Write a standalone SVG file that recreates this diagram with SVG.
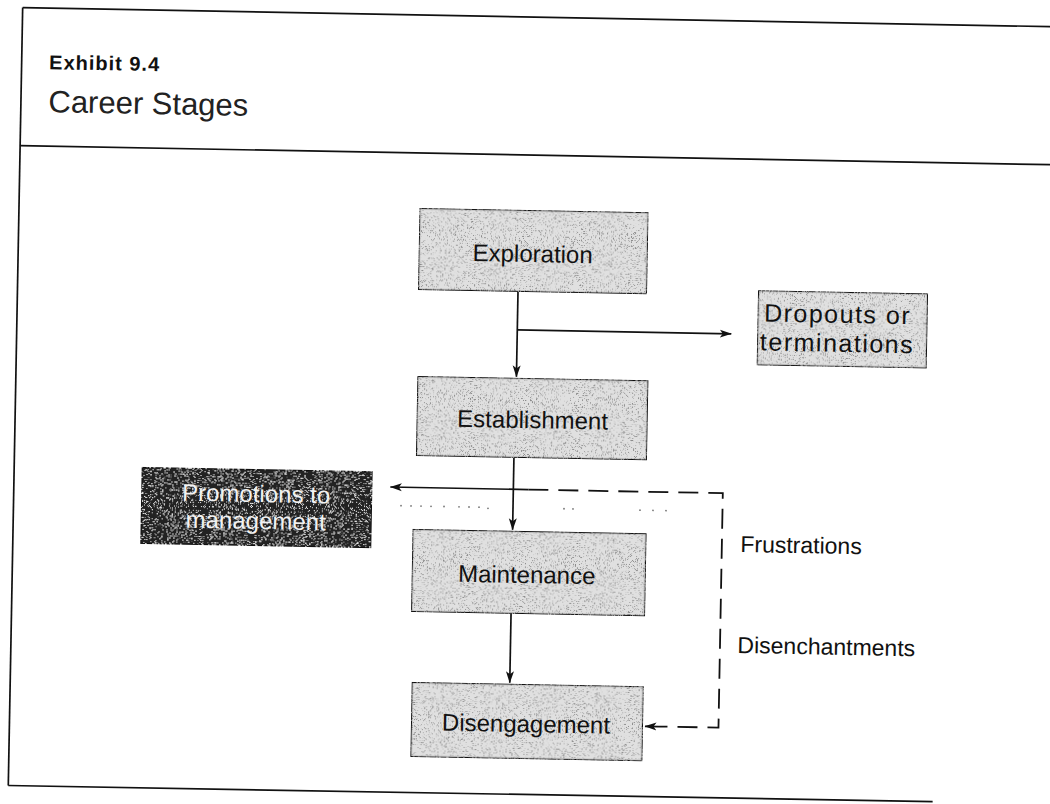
<svg xmlns="http://www.w3.org/2000/svg" width="1050" height="804" viewBox="0 0 1050 804">
<style>
.frame{stroke:#111;stroke-width:1.7;fill:none}
.box{fill:#e0e0e0;stroke:#111;stroke-width:2.2}
.dark{fill:#242424;stroke:#111;stroke-width:2.2}
.lbl{font-family:"Liberation Sans",Arial,sans-serif;font-size:24px;fill:#111;text-anchor:middle}
.big{font-size:25px;letter-spacing:1.5px}
.wlbl{font-family:"Liberation Sans",Arial,sans-serif;font-size:24px;fill:#f2f2f2;text-anchor:middle}
.side{font-family:"Liberation Sans",Arial,sans-serif;font-size:23px;fill:#111}
.conn{stroke:#111;stroke-width:1.7;fill:none}
.dash{stroke:#111;stroke-width:1.8;fill:none;stroke-dasharray:20 10}
.dot{fill:#777}
</style>
<defs>
<filter id="speck" x="0" y="0" width="100%" height="100%">
<feTurbulence type="fractalNoise" baseFrequency="1.5" numOctaves="1" seed="3" result="n"/>
<feColorMatrix in="n" type="matrix" values="0 0 0 0 0.25  0 0 0 0 0.25  0 0 0 0 0.25  -7 0 0 0 3.1" result="d"/>
<feComposite in="d" in2="SourceGraphic" operator="in" result="dc"/>
<feMerge><feMergeNode in="SourceGraphic"/><feMergeNode in="dc"/></feMerge>
</filter>
<filter id="speckw" x="0" y="0" width="100%" height="100%">
<feTurbulence type="fractalNoise" baseFrequency="1.5" numOctaves="1" seed="7" result="n"/>
<feColorMatrix in="n" type="matrix" values="0 0 0 0 0.85  0 0 0 0 0.85  0 0 0 0 0.85  -7 0 0 0 2.9" result="d"/>
<feComposite in="d" in2="SourceGraphic" operator="in" result="dc"/>
<feMerge><feMergeNode in="SourceGraphic"/><feMergeNode in="dc"/></feMerge>
</filter>
<marker id="arr" viewBox="0 0 12 10" refX="11.5" refY="5" markerWidth="12" markerHeight="10" markerUnits="userSpaceOnUse" orient="auto">
<path d="M0,1 L12,5 L0,9 L3,5 z" fill="#111"/>
</marker>
</defs>

<g transform="rotate(1.06 525 400)">
<g id="frame">
<line class="frame" x1="15.5" y1="17" x2="1070" y2="17"/>
<line class="frame" x1="15.5" y1="155" x2="1070" y2="155"/>
<line class="frame" x1="15.5" y1="17" x2="15.5" y2="795"/>
<line class="frame" x1="15.5" y1="795" x2="940" y2="794"/>
<text x="43" y="78" font-family="'Liberation Sans',Arial,sans-serif" font-size="20" font-weight="bold" letter-spacing="1" fill="#111">Exhibit 9.4</text>
<text x="43" y="121" font-family="'Liberation Sans',Arial,sans-serif" font-size="31" fill="#222">Career Stages</text>
</g>

<g id="connectors">
<line class="conn" x1="516" y1="292" x2="516" y2="377" marker-end="url(#arr)"/>
<line class="conn" x1="516" y1="330" x2="730" y2="330" marker-end="url(#arr)"/>
<line class="conn" x1="515" y1="458" x2="515" y2="530" marker-end="url(#arr)"/>
<line class="conn" x1="515" y1="614" x2="515" y2="683" marker-end="url(#arr)"/>
<line class="conn" x1="530" y1="489.5" x2="392" y2="489.5" marker-end="url(#arr)"/>
<polyline class="dash" points="530,489.5 724.5,489.5 724.5,724 665,724"/>
<line class="conn" x1="665" y1="724" x2="651" y2="724" marker-end="url(#arr)"/>
<g id="faint-dots">
<circle class="dot" cx="403" cy="508" r="0.9"/><circle class="dot" cx="413" cy="508" r="0.9"/>
<circle class="dot" cx="423" cy="508" r="0.9"/><circle class="dot" cx="433" cy="508" r="0.9"/>
<circle class="dot" cx="446" cy="508" r="0.9"/><circle class="dot" cx="461" cy="508" r="0.9"/>
<circle class="dot" cx="471" cy="508" r="0.9"/><circle class="dot" cx="481" cy="508" r="0.9"/>
<circle class="dot" cx="490" cy="509" r="0.9"/><circle class="dot" cx="566" cy="508" r="0.9"/>
<circle class="dot" cx="575" cy="508" r="0.9"/><circle class="dot" cx="642" cy="508" r="0.9"/>
<circle class="dot" cx="655" cy="508" r="0.9"/><circle class="dot" cx="668" cy="508" r="0.9"/>
</g>
</g>

<g id="exploration">
<rect class="box" x="416" y="210" width="229" height="82" filter="url(#speck)"/>
<text class="lbl" x="530" y="262">Exploration</text>
</g>
<g id="dropouts">
<rect class="box" x="756" y="286" width="170" height="75" filter="url(#speck)"/>
<text class="lbl big" x="836" y="317">Dropouts or</text>
<text class="lbl big" x="836" y="346">terminations</text>
</g>
<g id="establishment">
<rect class="box" x="417" y="378" width="231" height="80" filter="url(#speck)"/>
<text class="lbl" x="533" y="428">Establishment</text>
</g>
<g id="promotions">
<rect class="dark" x="143" y="474" width="231" height="77" filter="url(#speckw)"/>
<text class="wlbl" x="258" y="507">Promotions to</text>
<text class="wlbl" x="258" y="534">management</text>
</g>
<g id="maintenance">
<rect class="box" x="415" y="531" width="234" height="83" filter="url(#speck)"/>
<text class="lbl" x="530" y="583">Maintenance</text>
</g>
<g id="disengagement">
<rect class="box" x="417" y="684" width="232" height="75" filter="url(#speck)"/>
<text class="lbl" x="532" y="732">Disengagement</text>
</g>

<g id="labels">
<text class="side" x="743" y="548">Frustrations</text>
<text class="side" x="742" y="649">Disenchantments</text>
</g>
</g>
</svg>
